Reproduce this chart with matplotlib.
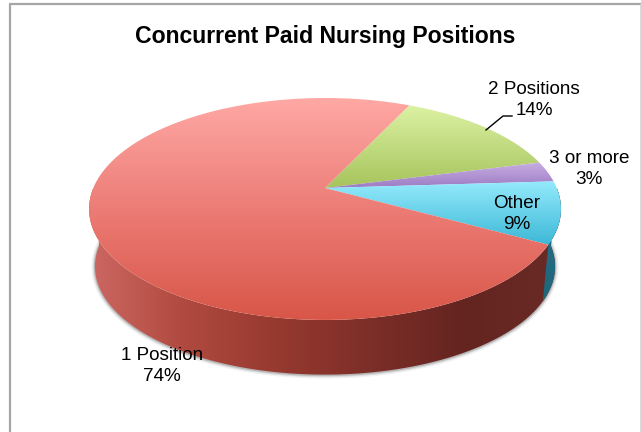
"""Concurrent paid nursing positions, drawn as a tilted 3D pie."""

import matplotlib

matplotlib.use("Agg")
import matplotlib.pyplot as plt
import numpy as np
from matplotlib.colors import LinearSegmentedColormap
from matplotlib.patches import PathPatch
from matplotlib.path import Path

categories = ["2 Positions", "3 or more", "Other", "1 Position"]
shares = [14, 3, 9, 74]
start_angle = 25.2

top_colors = [
    ("#dcf2a4", "#a6c45c"),
    ("#c8aee2", "#9c7cc4"),
    ("#94eafc", "#3cb8d6"),
    ("#ffa8a4", "#ec7c76", "#d85648"),
]
other_wall_colors = ("#28788f", "#1c6074")
wall_colors = ["#cc6862", "#b04a40", "#96392f", "#7c2e28", "#642420", "#6a2a26"]

# pixel geometry of the pie, fitted to the reference
CX, CY = 325, 188
FOCAL, TILT, PERSP = 231.7, 107, 0.189
DEPTH, BOTTOM_SCALE = 58, 0.975


def project(angle_deg, scale=1.0, drop=0.0):
    """Angle clockwise from north to picture pixels."""
    t = np.radians(angle_deg)
    x, y = np.sin(t), np.cos(t)
    w = 1 + PERSP * y
    return CX + scale * FOCAL * x / w, CY + drop - scale * TILT * y / w


def gradient_fill(axis, verts, extent, colors, vertical=True):
    """Draw a linear gradient clipped to a polygon."""
    cmap = LinearSegmentedColormap.from_list("g", colors)
    ramp = np.linspace(0, 1, 256)
    ramp = ramp[:, None] if vertical else ramp[None, :]
    path = Path(np.vstack([verts, verts[0]]), closed=True)
    clip = PathPatch(path, transform=axis.transData, facecolor="none", edgecolor="none")
    axis.add_patch(clip)
    image = axis.imshow(ramp, cmap=cmap, extent=extent, aspect="auto", zorder=3,
                        interpolation="bilinear", origin="upper")
    image.set_clip_path(clip)


figure = plt.figure(figsize=(6.41, 4.32), dpi=100)
plt.rcParams["font.family"] = ["Liberation Sans", "DejaVu Sans"]
axis = figure.add_axes([0, 0, 1, 1])
axis.axis("off")

# chart frame, dark on the top and left, pale on the right
axis.plot([10, 10], [432, 4], color="#a6a6a6", linewidth=1.6, zorder=1, solid_capstyle="butt")
axis.plot([9, 641], [4, 4], color="#a6a6a6", linewidth=1.6, zorder=1, solid_capstyle="butt")
axis.plot([640.5, 640.5], [4, 432], color="#d4d4d4", linewidth=1.2, zorder=1, solid_capstyle="butt")

# boundaries of each slice, clockwise from the start angle
edges = start_angle + np.cumsum([0] + shares) * 3.6

# soft shadow under the wall
shadow_t = np.linspace(90, 270, 200)
sx, sy = project(shadow_t, BOTTOM_SCALE, DEPTH)
for width, alpha in [(5, 0.08), (3, 0.14), (1.5, 0.25)]:
    axis.plot(sx, sy + 0.5, color="#505050", alpha=alpha, linewidth=width, zorder=2)

# side wall, whole front half of the rim
rim = np.linspace(90, 270, 300)
rx, ry = project(rim)
bx, by = project(rim, BOTTOM_SCALE, DEPTH)
wall = np.column_stack([np.r_[rx, bx[::-1]], np.r_[ry, by[::-1]]])
gradient_fill(axis, wall, (89, 561, 380, 95), wall_colors, vertical=False)

# the small part of the wall under the Other slice
rim = np.linspace(90, edges[3], 60)
rx, ry = project(rim)
bx, by = project(rim, BOTTOM_SCALE, DEPTH)
wall = np.column_stack([np.r_[rx, bx[::-1]], np.r_[ry, by[::-1]]])
gradient_fill(axis, wall, (530, 561, 380, 95), other_wall_colors)

# top faces, each gradient spans its own slice
for i, colors in enumerate(top_colors):
    t = np.linspace(edges[i], edges[i + 1], 200)
    px, py = project(t)
    verts = np.column_stack([np.r_[CX, px], np.r_[CY, py]])
    extent = (89, 561, verts[:, 1].max(), verts[:, 1].min())
    gradient_fill(axis, verts, extent, colors)

axis.set_xlim(0, 641)
axis.set_ylim(432, 0)

axis.text(325, 36, "Concurrent Paid Nursing Positions", ha="center", va="center",
          fontsize=16.6, fontweight="bold", color="black", zorder=5)

label_xy = [(534, 100), (589, 169), (517, 214), (162, 366)]
for name, share, (lx, ly) in zip(categories, shares, label_xy):
    axis.text(lx, ly, f"{name}\n{share}%", ha="center", va="center", fontsize=13.6,
              color="black", linespacing=1.26, zorder=5)

# leader line of the 2 Positions label
axis.plot([486, 503, 512], [130, 116, 116], color="black", linewidth=1, zorder=4)

figure.savefig("out.png", dpi=100)
plt.close(figure)
